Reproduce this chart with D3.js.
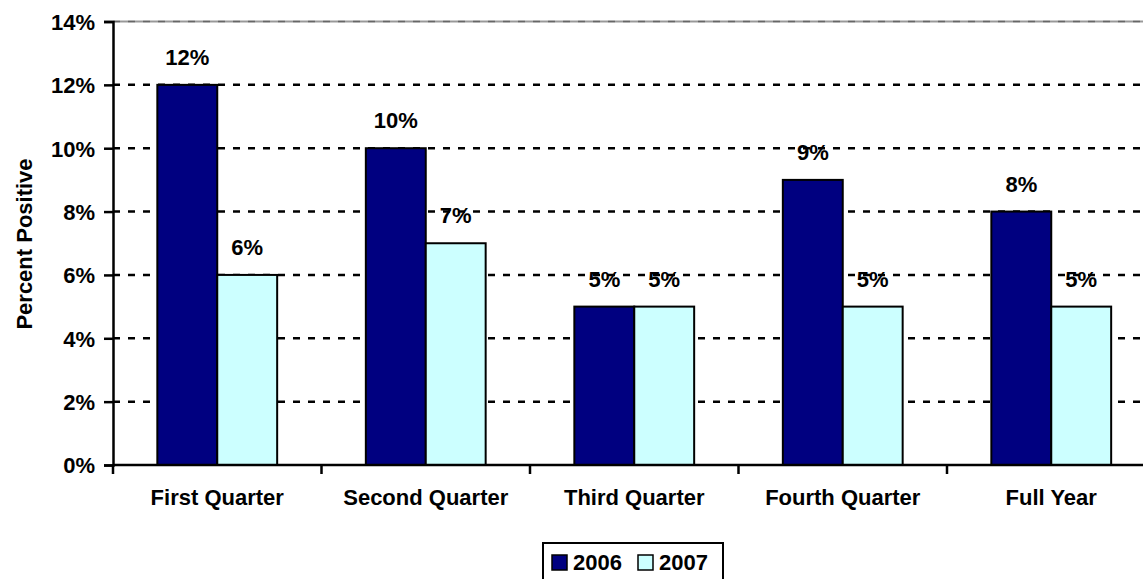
<!DOCTYPE html>
<html>
<head>
<meta charset="utf-8">
<script src="https://cdn.jsdelivr.net/npm/d3@7"></script>
<style>
  body { margin: 0; background: #fff; }
  svg text { font-family: "Liberation Sans", Arial, sans-serif; font-weight: bold; fill: #000; }
</style>
</head>
<body>
<svg id="chart" width="1143" height="579"></svg>
<script>
const categories = ['First Quarter', 'Second Quarter', 'Third Quarter', 'Fourth Quarter', 'Full Year'];
const seriesNames = ['2006', '2007'];
const values2006 = [12, 10, 5, 9, 8];
const values2007 = [6, 7, 5, 5, 5];
const yTicks = [0, 2, 4, 6, 8, 10, 12, 14];
const colors = ['#000080', '#CCFFFF'];

const rows = categories.map((c, i) => ({ cat: c, vals: [values2006[i], values2007[i]] }));

const svg = d3.select('#chart');
const plotLeft = 113, plotTop = 21.5, plotBottom = 465, bandW = 208.5;

const x = d3.scaleBand()
    .domain(categories)
    .range([plotLeft, plotLeft + bandW * categories.length])
    .paddingInner(0)
    .paddingOuter(0);

// two bars of ~60px centred in each category
const xInner = d3.scaleBand()
    .domain(seriesNames)
    .range([0, x.bandwidth()])
    .paddingOuter(0.74)
    .paddingInner(0);

const y = d3.scaleLinear().domain([0, 14]).range([plotBottom, plotTop]);

// gridlines
svg.append('g')
    .selectAll('line')
    .data(yTicks.filter(t => t > 0 && t < 14))
    .join('line')
    .attr('x1', plotLeft)
    .attr('x2', 1143)
    .attr('y1', d => y(d))
    .attr('y2', d => y(d))
    .attr('stroke', '#000')
    .attr('stroke-width', 2.5)
    .attr('stroke-dasharray', '7,8');

// top border of plot area
svg.append('line')
    .attr('x1', plotLeft).attr('x2', 1143)
    .attr('y1', y(14)).attr('y2', y(14))
    .attr('stroke', '#999').attr('stroke-width', 2);
svg.append('line')
    .attr('x1', plotLeft).attr('x2', 1143)
    .attr('y1', y(14)).attr('y2', y(14))
    .attr('stroke', '#666').attr('stroke-width', 1.5)
    .attr('stroke-dasharray', '7,8');

// bars
const groups = svg.append('g')
    .selectAll('g')
    .data(rows)
    .join('g')
    .attr('transform', d => 'translate(' + x(d.cat) + ',0)');

groups.selectAll('rect')
    .data(d => d.vals.map((v, i) => ({ key: seriesNames[i], v: v, i: i })))
    .join('rect')
    .attr('x', d => xInner(d.key))
    .attr('y', d => y(d.v))
    .attr('width', xInner.bandwidth())
    .attr('height', d => y(0) - y(d.v))
    .attr('fill', d => colors[d.i])
    .attr('stroke', '#000')
    .attr('stroke-width', 2);

groups.selectAll('text.val')
    .data(d => d.vals.map((v, i) => ({ key: seriesNames[i], v: v })))
    .join('text')
    .classed('val', true)
    .attr('x', d => xInner(d.key) + xInner.bandwidth() / 2)
    .attr('y', d => y(d.v) - 20)
    .attr('text-anchor', 'middle')
    .style('font-size', '22px')
    .text(d => d.v + '%');

// y axis
const yAxis = svg.append('g')
    .attr('transform', 'translate(' + plotLeft + ',0)')
    .call(d3.axisLeft(y).tickValues(yTicks).tickFormat(d => d + '%').tickSize(9).tickPadding(9));
yAxis.select('.domain').attr('stroke', '#000').attr('stroke-width', 2.5);
yAxis.selectAll('.tick line').attr('stroke', '#000').attr('stroke-width', 2.5);
yAxis.selectAll('.tick text')
    .style('font-size', '22px')
    .style('font-family', '"Liberation Sans", Arial, sans-serif')
    .style('font-weight', 'bold')
    .attr('dy', '0.36em');

// x axis
const xAxis = svg.append('g')
    .attr('transform', 'translate(0,' + plotBottom + ')');
xAxis.append('line')
    .attr('x1', plotLeft).attr('x2', 1143)
    .attr('stroke', '#000').attr('stroke-width', 2.5);
xAxis.selectAll('line.tk')
    .data(categories.map(c => x(c)))
    .join('line')
    .classed('tk', true)
    .attr('x1', d => d).attr('x2', d => d)
    .attr('y1', 0).attr('y2', 9)
    .attr('stroke', '#000').attr('stroke-width', 2.5);
xAxis.selectAll('text')
    .data(categories)
    .join('text')
    .attr('x', d => x(d) + x.bandwidth() / 2)
    .attr('y', 40)
    .attr('text-anchor', 'middle')
    .style('font-size', '22px')
    .text(d => d);

// y title
svg.append('text')
    .attr('transform', 'translate(32,244) rotate(-90)')
    .attr('text-anchor', 'middle')
    .style('font-size', '22px')
    .text('Percent Positive');

// legend
const legend = svg.append('g').attr('transform', 'translate(543,543)');
legend.append('rect')
    .attr('width', 180).attr('height', 40)
    .attr('fill', '#fff').attr('stroke', '#000').attr('stroke-width', 2);
const item = legend.selectAll('g')
    .data(seriesNames)
    .join('g')
    .attr('transform', (d, i) => 'translate(' + (9 + i * 86) + ',0)');
item.append('rect')
    .attr('y', 12).attr('width', 15).attr('height', 15)
    .attr('fill', (d, i) => colors[i])
    .attr('stroke', '#000').attr('stroke-width', 1.5);
item.append('text')
    .attr('x', 21).attr('y', 27)
    .style('font-size', '22px')
    .text(d => d);
</script>
</body>
</html>
